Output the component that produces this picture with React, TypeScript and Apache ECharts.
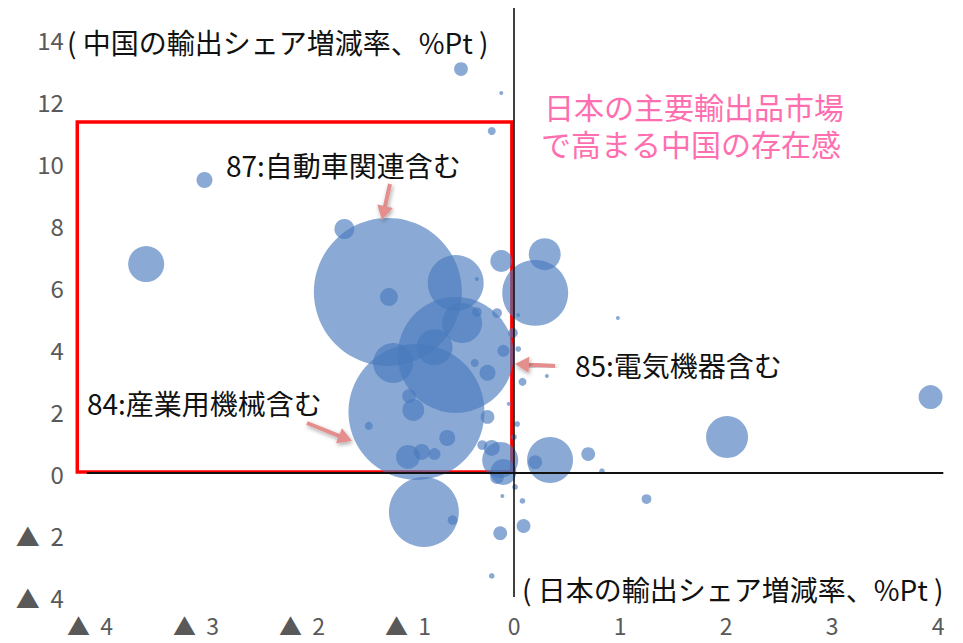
import React, { useEffect, useRef } from "react";
import * as echarts from "echarts";

// Change in Japan's export share (%Pt) — x
const japanShareChange = [-1.19,-0.92,-0.55,-0.55,0.20,-3.47,-2.92,-0.50,-1.60,-1.18,0.29,-0.12,0.34,2.01,3.93,-0.85,1.25,0.70,0.83,0.98,0.31,0.08,0.09,-0.13,-0.21,0.08,-0.11,-0.13,-0.10,-0.21,-0.16,0.20,-0.58,0.01,0.03,0.00,-0.05,-0.25,-0.25,-0.37,-0.10,-0.01,0.04,-0.16,-0.35,-0.35,0.04,-1.14,-0.75,-0.49,-0.95,-0.63,-1.37,-1.00,-0.87,-0.75,-0.99,-0.30,-0.12,-0.21];
// Change in China's export share (%Pt) — y
const chinaShareChange = [5.84,1.97,3.81,6.13,5.81,6.74,9.45,13.03,7.87,5.68,7.06,6.84,0.42,1.16,2.45,-1.26,-0.84,0.61,0.06,5.0,3.13,2.94,-1.71,-1.94,-3.32,-0.9,-0.74,0.42,0.03,0.81,-0.13,0.35,-1.52,-0.45,1.58,1.16,2.23,1.81,3.23,3.55,3.94,4.52,4.0,5.16,5.19,6.26,5.1,3.55,4.06,4.84,2.03,1.13,1.52,0.52,0.68,0.61,2.48,0.9,12.26,11.03];
// Export value (bubble size, arbitrary units)
const exportValue = [1369,1156,841,196,272,81,16,12,25,20,64,30,132,110,36,306,6,12,2,1,1,4,12,12,2,2,1,81,42,16,12,12,6,2,2,2,1,12,16,4,9,6,2,6,6,1,1,100,81,100,30,16,4,36,16,9,12,6,1,4];

const xTicks = [-4, -3, -2, -1, 0, 1, 2, 3, 4];
const yTicks = [-4, -2, 0, 2, 4, 6, 8, 10, 12, 14];

const highlightBox = { xMin: -4.12, xMax: -0.02, yMin: 0.03, yMax: 11.32 };

const FONT = '"Noto Sans CJK JP", "Noto Sans", sans-serif';
const ARROW = "#e48e8e";

function fmt(v: number) {
  return v < 0 ? "▲  " + Math.abs(v) : String(v);
}

function arrow(x1: number, y1: number, x2: number, y2: number) {
  const dx = x2 - x1, dy = y2 - y1;
  const len = Math.sqrt(dx * dx + dy * dy);
  const ux = dx / len, uy = dy / len;
  const headLen = 14, half = 8;
  const bx = x2 - ux * headLen, by = y2 - uy * headLen;
  const px = -uy, py = ux;
  const shadow = { shadowBlur: 4, shadowColor: "rgba(0,0,0,0.35)", shadowOffsetX: 1, shadowOffsetY: 2 };
  return [
    {
      type: "line", z: 100,
      shape: { x1, y1, x2: bx + ux * 2, y2: by + uy * 2 },
      style: { stroke: ARROW, lineWidth: 4, ...shadow },
    },
    {
      type: "polygon", z: 100,
      shape: { points: [[x2, y2], [bx + px * half, by + py * half], [bx - px * half, by - py * half]] },
      style: { fill: ARROW, ...shadow },
    },
  ];
}

export default function App() {
  const ref = useRef<HTMLDivElement>(null);
  useEffect(() => {
    document.body.style.margin = "0";
    const chart = echarts.init(ref.current!, null, { renderer: "svg" });
    const data = japanShareChange.map((x, i) => [x, chinaShareChange[i], exportValue[i]]);
    const textStyle = (size: number, color = "#111") => ({ fontSize: size, fontFamily: FONT, fill: color });
    chart.setOption({
      animation: false,
      backgroundColor: "#ffffff",
      grid: { left: 68.8, right: 19.7, top: 8, bottom: 46, containLabel: false },
      xAxis: {
        type: "value", min: -4.2, max: 4.05,
        axisLine: { show: false }, axisTick: { show: false }, splitLine: { show: false },
        axisLabel: {
          customValues: xTicks, formatter: fmt, margin: 16,
          fontSize: 23, fontFamily: FONT, color: "#595959",
        },
      },
      yAxis: {
        type: "value", min: -4, max: 15,
        axisLine: { show: false }, axisTick: { show: false }, splitLine: { show: false },
        axisLabel: {
          customValues: yTicks, formatter: fmt, margin: 5,
          fontSize: 24, fontFamily: FONT, color: "#595959",
        },
      },
      series: [
        {
          type: "scatter", z: 1, data: [], silent: true,
          markArea: {
            silent: true,
            itemStyle: { color: "rgba(0,0,0,0)", borderColor: "#ff0000", borderWidth: 3.5 },
            data: [[{ coord: [highlightBox.xMin, highlightBox.yMax] }, { coord: [highlightBox.xMax, highlightBox.yMin] }]],
          },
          markLine: {
            silent: true, symbol: "none", label: { show: false },
            lineStyle: { type: "solid", color: "#111", width: 1.6 },
            data: [
              [{ coord: [0, 15], lineStyle: { type: "solid", color: "#111", width: 1.6 } }, { coord: [0, -4] }],
              [{ coord: [-4.03, 0], lineStyle: { type: "solid", color: "#111", width: 2 } }, { coord: [4.05, 0] }],
            ],
          },
        },
        {
          type: "scatter", z: 3, data,
          symbolSize: (v: number[]) => Math.sqrt(v[2]) * 4,
          itemStyle: { color: "rgba(72,122,190,0.8)" },
        },
      ],
      graphic: [
        { type: "text", z: 50, left: 67, top: 28, style: { text: "( 中国の輸出シェア増減率、%Pt )", ...textStyle(28) } },
        { type: "text", z: 50, left: 522, top: 575, style: { text: "( 日本の輸出シェア増減率、%Pt )", ...textStyle(28) } },
        { type: "text", z: 50, left: 544, top: 91, style: { text: "日本の主要輸出品市場", lineHeight: 30, ...textStyle(30, "#ff6fb0") } },
        { type: "text", z: 50, left: 541, top: 128, style: { text: "で高まる中国の存在感", lineHeight: 30, ...textStyle(30, "#ff6fb0") } },
        { type: "text", z: 50, left: 226, top: 151, style: { text: "87:自動車関連含む", ...textStyle(28) } },
        { type: "text", z: 50, left: 87, top: 389, style: { text: "84:産業用機械含む", ...textStyle(28) } },
        { type: "text", z: 50, left: 575, top: 351, style: { text: "85:電気機器含む", ...textStyle(28) } },
        ...arrow(390, 184, 382, 220),
        ...arrow(307, 423, 352, 441),
        ...arrow(555, 366, 515, 364),
      ],
    });
    return () => chart.dispose();
  }, []);
  return <div ref={ref} style={{ width: 963, height: 643 }} />;
}
